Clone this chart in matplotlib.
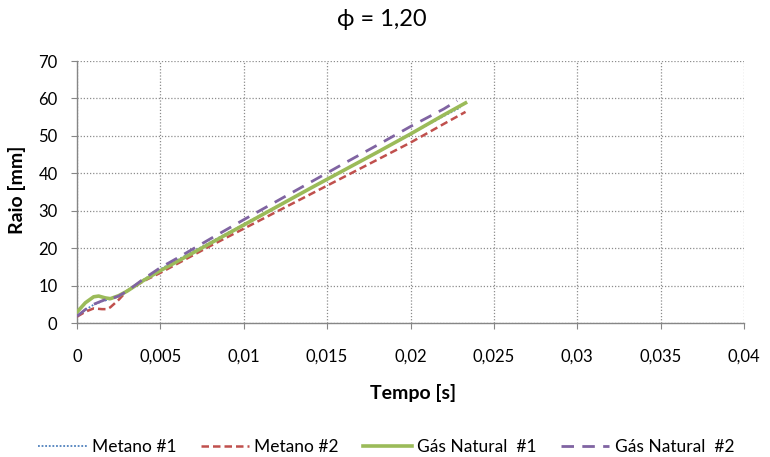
import matplotlib
matplotlib.use("Agg")
import matplotlib.pyplot as plt
from matplotlib.ticker import FuncFormatter, MultipleLocator

plt.rcParams['font.family'] = ['Lato', 'DejaVu Sans']

title = "\u03d5 = 1,20"
xlabel = "Tempo [s]"
ylabel = "Raio [mm]"

# Flame radius vs time for each run
t_m1 = [0, 0.0005, 0.001, 0.0015, 0.002, 0.0025, 0.003, 0.004, 0.005, 0.006, 0.008,
        0.010, 0.012, 0.014, 0.016, 0.018, 0.020, 0.022, 0.023]
r_m1 = [1.8, 3.5, 4.9, 5.8, 6.4, 7.2, 8.5, 11.6, 14.4, 16.8, 21.6,
        26.4, 31.2, 36.0, 40.8, 45.6, 50.5, 55.3, 57.6]

t_m2 = [0, 0.0005, 0.001, 0.0015, 0.0018, 0.002, 0.0025, 0.003, 0.004, 0.005, 0.006,
        0.008, 0.010, 0.012, 0.014, 0.016, 0.018, 0.020, 0.022, 0.0233]
r_m2 = [1.7, 3.0, 3.9, 3.7, 3.7, 4.2, 6.2, 8.6, 11.2, 13.4, 15.8,
        20.6, 25.2, 29.8, 34.4, 39.0, 43.6, 48.2, 53.2, 56.4]

t_gn1 = [0, 0.0005, 0.001, 0.0013, 0.0017, 0.002, 0.0025, 0.003, 0.004, 0.005, 0.006,
         0.008, 0.010, 0.012, 0.014, 0.016, 0.018, 0.020, 0.022, 0.0233]
r_gn1 = [2.9, 5.4, 7.0, 7.2, 6.7, 6.5, 7.3, 8.5, 11.4, 14.0, 16.4,
         21.3, 26.2, 31.1, 36.0, 40.8, 45.6, 50.5, 55.6, 58.8]

t_gn2 = [0, 0.0005, 0.001, 0.0016, 0.002, 0.0025, 0.003, 0.004, 0.005, 0.006, 0.008,
         0.010, 0.012, 0.014, 0.016, 0.018, 0.020, 0.022, 0.0228]
r_gn2 = [1.8, 3.6, 5.0, 6.1, 6.4, 7.2, 8.5, 11.8, 14.8, 17.3, 22.5,
         27.6, 32.6, 37.6, 42.6, 47.5, 52.5, 57.2, 59.4]

labels = ["Metano #1", "Metano #2", "G\u00e1s Natural  #1", "G\u00e1s Natural  #2"]
colors = ["#4F81BD", "#C0504D", "#9BBB59", "#8064A2"]

W, H = 770, 457
fig = plt.figure(figsize=(W / 100, H / 100), dpi=100)
ax = fig.add_axes([77 / W, 1 - 323 / H, (744 - 77) / W, (323 - 61) / H])

ax.plot(t_m1, r_m1, color=colors[0], lw=1.3, ls=(0, (1, 1)), label=labels[0], zorder=3)
ax.plot(t_m2, r_m2, color=colors[1], lw=1.8, ls=(0, (3, 1.6)), label=labels[1], zorder=4)
ax.plot(t_gn1, r_gn1, color=colors[2], lw=2.6, ls='-', label=labels[2], zorder=5)
ax.plot(t_gn2, r_gn2, color=colors[3], lw=2.0, ls=(0, (4.5, 3)), label=labels[3], zorder=6)

ax.set_xlim(0, 0.04)
ax.set_ylim(0, 70)
ax.xaxis.set_major_locator(MultipleLocator(0.005))
ax.yaxis.set_major_locator(MultipleLocator(10))


def fmt_x(v, pos):
    if abs(v) < 1e-12:
        return "0"
    s = ("%.3f" % v).rstrip('0').rstrip('.')
    return s.replace('.', ',')


ax.xaxis.set_major_formatter(FuncFormatter(fmt_x))
ax.yaxis.set_major_formatter(FuncFormatter(lambda v, p: "%d" % v))

ax.grid(True, color="#8c8c8c", ls=(0, (1, 1.5)), lw=0.9)
ax.set_axisbelow(True)
for s in ['top', 'right']:
    ax.spines[s].set_visible(False)
for s in ['left', 'bottom']:
    ax.spines[s].set_color("#868686")
    ax.spines[s].set_linewidth(1.0)
ax.tick_params(axis='both', colors="#868686", labelcolor="black", labelsize=12,
               direction='out', length=4)
ax.tick_params(axis='x', pad=14.5)
ax.tick_params(axis='y', pad=10)

fig.text(382 / W, 1 - 19 / H, title, fontsize=17, ha='center', va='center')
fig.text(413 / W, 1 - 393 / H, xlabel, fontsize=14, fontweight='bold',
         ha='center', va='center')
fig.text(17.5 / W, 1 - 190 / H, ylabel, fontsize=14, fontweight='bold',
         ha='center', va='center', rotation=90)

fig.legend(loc='center', bbox_to_anchor=(386 / W, 1 - 447 / H), ncol=4, frameon=False,
           fontsize=12.5, handlelength=2.8, columnspacing=1.4, handletextpad=0.3,
           borderpad=0.1)

fig.savefig("out.png", dpi=100)
